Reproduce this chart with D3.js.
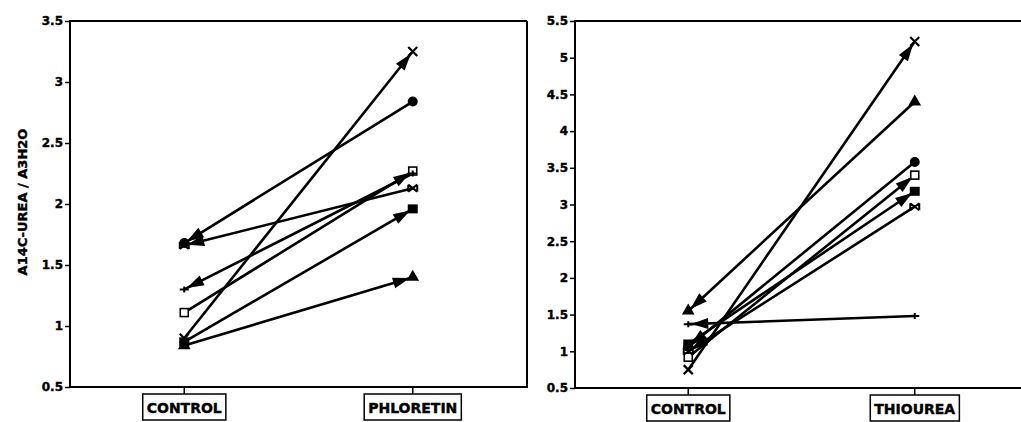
<!DOCTYPE html>
<html lang="en">
  <head>
    <meta charset="UTF-8" />
    <title>Urea / water permeability ratio</title>
    <script src="https://d3js.org/d3.v7.min.js"></script>
    <style>
      body {
        margin: 0;
        background: #fff;
      }
      svg text {
        font-family: 'DejaVu Sans', Arial, sans-serif;
        font-weight: bold;
        fill: #000;
        stroke: #000;
        stroke-width: 0.4px;
      }
    </style>
  </head>
  <body>
    <div id="chart"></div>
    <script>
      // values: [control, treated]
      const markers = ['cross', 'circle', 'openSquare', 'plus', 'asterisk', 'filledSquare', 'triangle'];

      const phloretinCategories = ['CONTROL', 'PHLORETIN'];
      const phloretinControl = [0.9, 1.68, 1.11, 1.3, 1.66, 0.87, 0.84];
      const phloretinTreated = [3.25, 2.84, 2.27, 2.25, 2.13, 1.96, 1.4];
      const phloretinArrow = ['end', 'start', 'end', 'start', 'start', 'end', 'end'];
      const phloretinTicks = [0.5, 1, 1.5, 2, 2.5, 3, 3.5];

      const thioureaCategories = ['CONTROL', 'THIOUREA'];
      const thioureaControl = [0.75, 1.06, 0.92, 1.37, 1.0, 1.1, 1.55];
      const thioureaTreated = [5.22, 3.58, 3.4, 1.48, 2.97, 3.18, 4.4];
      const thioureaArrow = ['end', 'start', 'end', 'start', 'start', 'end', 'start'];
      const thioureaTicks = [0.5, 1, 1.5, 2, 2.5, 3, 3.5, 4, 4.5, 5, 5.5];

      const W = 1021,
        H = 422;

      const svg = d3
        .select('#chart')
        .append('svg')
        .attr('width', W)
        .attr('height', H);

      // y axis title (left panel only)
      svg
        .append('text')
        .attr('transform', 'translate(27,202) rotate(-90)')
        .attr('text-anchor', 'middle')
        .style('font-size', '13px')
        .text('A14C-UREA / A3H2O');

      function drawPanel(opts) {
        const { left, right, top, bottom, cats, ctrl, treat, arrows, ticks } = opts;

        const x = d3.scalePoint().domain(cats).range([left, right]).padding(0.5);
        const y = d3
          .scaleLinear()
          .domain([ticks[0], ticks[ticks.length - 1]])
          .range([bottom, top]);

        const g = svg.append('g');

        // frame
        const frame = g.append('g').attr('fill', 'none').attr('stroke', '#000');
        frame
          .append('line')
          .attr('x1', left).attr('x2', right)
          .attr('y1', top).attr('y2', top)
          .attr('stroke-width', 2);
        frame
          .append('line')
          .attr('x1', right).attr('x2', right)
          .attr('y1', top).attr('y2', bottom)
          .attr('stroke-width', 2);

        // left axis
        const ya = g
          .append('g')
          .attr('transform', `translate(${left},0)`)
          .call(
            d3.axisLeft(y)
              .tickValues(ticks)
              .tickSize(5)
              .tickPadding(2)
              .tickFormat(d3.format('')),
          );
        ya.select('.domain').attr('stroke-width', 2).attr('d', `M0,${top - 1}V${bottom + 1}`);
        ya.selectAll('.tick line').attr('stroke-width', 1.5);
        ya.selectAll('.tick text').style('font-size', '12px').attr('fill', '#000');

        // bottom axis
        g.append('line')
          .attr('x1', left - 1).attr('x2', right + 1)
          .attr('y1', bottom).attr('y2', bottom)
          .attr('stroke', '#000')
          .attr('stroke-width', 2);

        // category labels in boxes
        cats.forEach((c) => {
          const cx = x(c);
          const lg = g.append('g');
          lg.append('line')
            .attr('x1', cx).attr('x2', cx)
            .attr('y1', bottom).attr('y2', bottom + 7)
            .attr('stroke', '#000')
            .attr('stroke-width', 1.5);
          const box = lg.append('rect');
          const t = lg
            .append('text')
            .attr('x', cx)
            .attr('y', bottom + 26)
            .attr('text-anchor', 'middle')
            .style('font-size', '14px')
            .text(c);
          const bb = t.node().getBBox();
          box
            .attr('x', bb.x - 4)
            .attr('y', bottom + 7)
            .attr('width', bb.width + 8)
            .attr('height', 26)
            .attr('fill', '#fff')
            .attr('stroke', '#000')
            .attr('stroke-width', 1.5);
        });

        // lines
        const lines = g.append('g');
        ctrl.forEach((v, i) => {
          const x0 = x(cats[0]), y0 = y(v);
          const x1 = x(cats[1]), y1 = y(treat[i]);
          lines
            .append('line')
            .attr('x1', x0).attr('y1', y0)
            .attr('x2', x1).attr('y2', y1)
            .attr('stroke', '#000')
            .attr('stroke-width', 2.6);

          // arrow head
          let tx, ty, fx, fy;
          if (arrows[i] === 'end') {
            tx = x1; ty = y1; fx = x0; fy = y0;
          } else {
            tx = x0; ty = y0; fx = x1; fy = y1;
          }
          const len = Math.hypot(tx - fx, ty - fy);
          const ux = (tx - fx) / len, uy = (ty - fy) / len;
          const tipX = tx - ux * 3, tipY = ty - uy * 3;
          const bx = tipX - ux * 17, by = tipY - uy * 17;
          const px = -uy * 5.5, py = ux * 5.5;
          lines
            .append('path')
            .attr(
              'd',
              `M${tipX},${tipY}L${bx + px},${by + py}L${bx - px},${by - py}Z`,
            )
            .attr('fill', '#000');
        });

        // markers at both ends
        const mg = g.append('g');
        ctrl.forEach((v, i) => {
          [[x(cats[0]), y(v)], [x(cats[1]), y(treat[i])]].forEach(([mx, my]) => {
            drawMarker(mg, markers[i], mx, my);
          });
        });
      }

      function drawMarker(g, type, mx, my) {
        const m = g.append('g').attr('transform', `translate(${mx},${my})`);
        const s = 4.5;
        if (type === 'cross') {
          m.append('path')
            .attr('d', `M${-s},${-s}L${s},${s}M${-s},${s}L${s},${-s}`)
            .attr('stroke', '#000').attr('stroke-width', 2.2);
        } else if (type === 'circle') {
          m.append('circle').attr('r', 5).attr('fill', '#000');
        } else if (type === 'openSquare') {
          m.append('rect')
            .attr('x', -4).attr('y', -4).attr('width', 8).attr('height', 8)
            .attr('fill', '#fff').attr('stroke', '#000').attr('stroke-width', 1.6);
        } else if (type === 'filledSquare') {
          m.append('rect')
            .attr('x', -5).attr('y', -4.5).attr('width', 10).attr('height', 9)
            .attr('fill', '#000');
        } else if (type === 'triangle') {
          m.append('path')
            .attr('d', d3.symbol(d3.symbolTriangle, 70)())
            .attr('fill', '#000');
        } else if (type === 'plus') {
          m.append('path')
            .attr('d', `M${-s},0H${s}M0,${-3}V${3}`)
            .attr('stroke', '#000').attr('stroke-width', 2);
        } else if (type === 'asterisk') {
          m.append('path')
            .attr('d', `M${-s},${-s + 1}L${s},${s - 1}M${-s},${s - 1}L${s},${-s + 1}M${-s},${-s + 1}V${s - 1}M${s},${-s + 1}V${s - 1}`)
            .attr('stroke', '#000').attr('stroke-width', 2);
        }
      }

      drawPanel({
        left: 70, right: 527, top: 21, bottom: 387,
        cats: phloretinCategories,
        ctrl: phloretinControl,
        treat: phloretinTreated,
        arrows: phloretinArrow,
        ticks: phloretinTicks,
      });

      drawPanel({
        left: 575, right: 1028, top: 21, bottom: 388,
        cats: thioureaCategories,
        ctrl: thioureaControl,
        treat: thioureaTreated,
        arrows: thioureaArrow,
        ticks: thioureaTicks,
      });
    </script>
  </body>
</html>
